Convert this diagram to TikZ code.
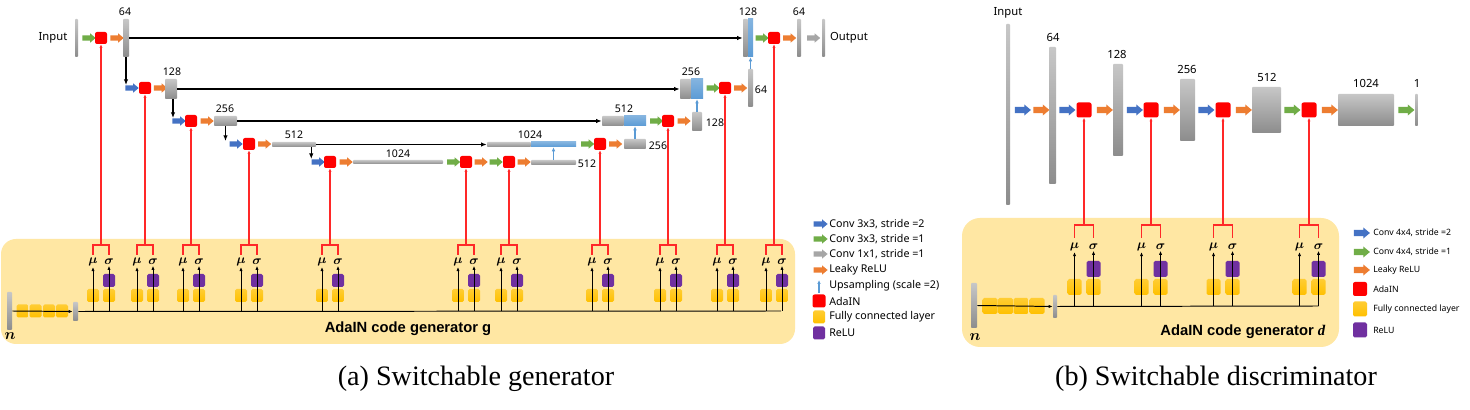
\documentclass[tikz,border=0pt]{standalone}
\usepackage{fontspec}
\setmainfont{Liberation Serif}
\setsansfont{Noto Sans}
\newfontfamily\cgfont{Liberation Sans}
\usetikzlibrary{arrows.meta,fit,shapes.arrows}

\definecolor{cblue}{RGB}{68,114,196}
\definecolor{cgreen}{RGB}{112,173,71}
\definecolor{corange}{RGB}{237,125,49}
\definecolor{cgray}{RGB}{166,166,166}
\definecolor{cyell}{RGB}{255,192,0}
\definecolor{cpurp}{RGB}{112,48,160}
\definecolor{clblue}{RGB}{91,155,213}
\definecolor{codebg}{RGB}{255,231,163}
\definecolor{cred}{RGB}{255,40,40}

\tikzset{
	blk/.style={single arrow, draw=none, inner xsep=0pt, inner ysep=0.6mm, minimum height=3.3mm, single arrow head extend=0.5mm, single arrow tip angle=80},
	bigblk/.style={blk, inner ysep=0.72mm, minimum height=4mm, single arrow head extend=0.6mm},
	ada/.style={rectangle, rounded corners=0.5mm, fill=red, inner sep=0pt, minimum size=3mm},
	bigada/.style={ada, minimum size=3.75mm},
	gbar/.style={rectangle, inner sep=0pt, top color=black!22, bottom color=black!45, rounded corners=0.2mm},
	ubar/.style={rectangle, inner sep=0pt, top color=clblue!75, bottom color=clblue},
	fcbox/.style={rectangle, inner sep=0pt, rounded corners=0.4mm, top color=cyell!80, bottom color=cyell, minimum width=3mm, minimum height=3.25mm},
	rlbox/.style={rectangle, inner sep=0pt, rounded corners=0.4mm, fill=cpurp, minimum width=3mm, minimum height=3.25mm},
	skipln/.style={line width=1pt, -{Latex[length=1.4mm,width=1.1mm]}},
	codearr/.style={line width=0.7pt, -{Latex[length=1mm,width=0.8mm]}},
	redln/.style={cred, line width=0.75pt},
	upar/.style={clblue, line width=0.8pt, -{Latex[length=1mm,width=0.9mm]}},
	lbl/.style={font=\sffamily\fontsize{7.5}{9}\selectfont, inner sep=0.5pt},
	biglbl/.style={font=\sffamily\fontsize{8}{10}\selectfont, inner sep=0.5pt},
	mlbl/.style={font=\fontsize{9}{10}\selectfont\boldmath, inner sep=0.5pt},
	legtxt/.style={font=\sffamily\fontsize{7.6}{9}\selectfont, anchor=west, inner sep=0pt},
	smlegtxt/.style={font=\sffamily\fontsize{6.2}{8}\selectfont, anchor=west, inner sep=0pt},
	cgtxt/.style={font=\cgfont\bfseries\fontsize{10.5}{12}\selectfont, inner sep=0pt},
	captxt/.style={font=\fontsize{20}{24}\selectfont, inner sep=0pt}
}

\begin{document}
\begin{tikzpicture}[x=0.25mm, y=-0.25mm]
			%%%%% START %%%%%
			\useasboundingbox[fill=white] (0,0) rectangle (1470,410);
			
			% code generator panels
			\fill[codebg, rounded corners=3.75mm] (1,239) rectangle (795,344);
			\fill[codebg, rounded corners=4.5mm] (962,218) rectangle (1339,347);
			
			%%%%% (a) generator, encoder %%%%%
			\node[biglbl] (tin) at (53,38) {Input};
			\node[gbar, fit={(75,19) (78,57)}] (inb) {};
			\node[blk, fill=cgreen] (g1) at (87.5,38) {};
			\node[ada] (a1) at (101,38) {};
			\node[blk, fill=corange] (o1) at (115.5,38) {};
			\node[gbar, fit={(123,19) (129,57)}] (e1) {};
			\node[lbl] (le1) at (125,12) {64};
			
			\node[blk, fill=cblue] (b2) at (130.5,88) {};
			\node[ada] (a2) at (145,88) {};
			\node[blk, fill=corange] (o2) at (159,88) {};
			\node[gbar, fit={(165,79) (177,99)}] (e2) {};
			\node[lbl] (le2) at (172,72) {128};
			
			\node[blk, fill=cblue] (b3) at (177.5,121) {};
			\node[ada] (a3) at (191,121) {};
			\node[blk, fill=corange] (o3) at (205.5,121) {};
			\node[gbar, fit={(214,116) (237,126)}] (e3) {};
			\node[lbl] (le3) at (225,109) {256};
			
			\node[blk, fill=cblue] (b4) at (234.5,144) {};
			\node[ada] (a4) at (249,144) {};
			\node[blk, fill=corange] (o4) at (263,144) {};
			\node[gbar, fit={(272,142) (316,147)}] (e4) {};
			\node[lbl] (le4) at (294,135) {512};
			
			\node[blk, fill=cblue] (b5) at (316.5,162) {};
			\node[ada] (a5) at (330,162) {};
			\node[blk, fill=corange] (o5) at (344.5,162) {};
			\node[gbar, fit={(353,160) (443,164)}] (e5) {};
			\node[lbl] (le5) at (398,154) {1024};
			\node[blk, fill=cgreen] (g6) at (452,162) {};
			\node[ada] (a6) at (466,162) {};
			\node[blk, fill=corange] (o6) at (479.5,162) {};
			\node[blk, fill=cgreen] (g7) at (494.5,162) {};
			\node[ada] (a7) at (509,162) {};
			\node[blk, fill=corange] (o7) at (522.5,162) {};
			\node[gbar, fit={(531,160) (576,165)}] (d5) {};
			\node[lbl] (ld5) at (587,164) {512};
			
			%%%%% (a) generator, decoder %%%%%
			\node[gbar, fit={(487,142) (531,147)}] (c4g) {};
			\node[ubar, fit={(531,142) (576,147)}] (c4b) {};
			\node[lbl] (lc4) at (530,135) {1024};
			\node[blk, fill=cgreen] (g8) at (586,144) {};
			\node[ada] (a8) at (600,144) {};
			\node[blk, fill=corange] (o8) at (614,144) {};
			\node[gbar, fit={(624,139) (646,149)}] (d4) {};
			\node[lbl] (ld4) at (658,146) {256};
			
			\node[gbar, fit={(602,116) (624,126)}] (c3g) {};
			\node[ubar, fit={(624,116) (646,126)}] (c3b) {};
			\node[lbl] (lc3) at (624,109) {512};
			\node[blk, fill=cgreen] (g9) at (655,121) {};
			\node[ada] (a9) at (668,121) {};
			\node[blk, fill=corange] (o9) at (682.5,121) {};
			\node[gbar, fit={(692,112) (702,131)}] (d3) {};
			\node[lbl] (ld3) at (715,123) {128};
			
			\node[gbar, fit={(680,79) (691,99)}] (c2g) {};
			\node[ubar, fit={(691,79) (703,99)}] (c2b) {};
			\node[lbl] (lc2) at (691,72) {256};
			\node[blk, fill=cgreen] (g10) at (711.5,88) {};
			\node[ada] (a10) at (725,88) {};
			\node[blk, fill=corange] (o10) at (739,88) {};
			\node[gbar, fit={(748,69) (753,107)}] (d2) {};
			\node[lbl] (ld2) at (761,90) {64};
			
			\node[gbar, fit={(743,19) (748,57)}] (c1g) {};
			\node[ubar, fit={(748,19) (753,57)}] (c1b) {};
			\node[lbl] (lc1) at (748,12) {128};
			\node[blk, fill=cgreen] (g11) at (760.5,38) {};
			\node[ada] (a11) at (774,38) {};
			\node[blk, fill=corange] (o11) at (788,38) {};
			\node[gbar, fit={(797,19) (801,57)}] (d1) {};
			\node[lbl] (ld1) at (799,12) {64};
			\node[blk, fill=cgray] (r1) at (812,38) {};
			\node[gbar, fit={(822,19) (825,57)}] (outb) {};
			\node[biglbl] (tout) at (849,38) {Output};
			
			% skips, down and up arrows
			\draw[skipln] (e1.east) -- (c1g.west);
			\draw[skipln] (e2.east) -- (c2g.west);
			\draw[skipln] (e3.east) -- (c3g.west);
			\draw[skipln] (e4.east) -- (c4g.west);
			\draw[skipln] (e1.south) -- (e1.south |- b2.north);
			\draw[skipln] ([xshift=0.5mm]e2.south) -- ([xshift=0.5mm]e2.south |- b3.north);
			\draw[skipln] (e3.south) -- (e3.south |- b4.north);
			\draw[skipln] ([xshift=-1.25mm]e4.south east) -- ([xshift=-1.25mm]e4.south east |- b5.north);
			\draw[upar] (d5.north) -- (c4b.south);
			\draw[upar] (d4.north) -- (c3b.south);
			\draw[upar] (d3.north) -- (c2b.south);
			\draw[upar] (d2.north) -- (c1b.south);
			
			%%%%% (a) AdaIN code generator %%%%%
			\node[gbar, fit={(7,292) (12,330)}] (nin) {};
			\node[mlbl, font=\fontsize{11}{12}\selectfont\boldmath] (nlab) at (10,336) {$n$};
			\foreach \x [count=\i] in {22.5,35.5,49,62}
				\node[fcbox] (fc\i) at (\x,311) {};
			\node[gbar, fit={(73,302) (78,321)}] (nout) {};
			\draw[codearr] (nin.east) -- (nout.west);
			\coordinate (bend) at (781,311);
			\draw[line width=0.7pt] (nout.east) -- (bend);
			\foreach \x/\n [count=\i] in {101/a1,145/a2,191/a3,249/a4,330/a5,466/a6,509/a7,600/a8,668/a9,725/a10,774/a11}{
				\node[fcbox] (fm\i) at (\x-8,295.5) {};
				\node[fcbox] (fs\i) at (\x+8,295.5) {};
				\node[rlbox] (rl\i) at (\x+8,280.5) {};
				\node[mlbl] (mu\i) at (\x-8,262) {$\mu$};
				\node[mlbl] (sg\i) at (\x+8,262) {$\sigma$};
				\draw[codearr] (\x-8,311) -- (mu\i);
				\draw[codearr] (\x+8,311) -- (sg\i);
				\draw[redln] (\x-8,255) |- (\x+8,245) -- (\x+8,255);
				\draw[redln, -{Latex[length=0.9mm,width=0.8mm]}] (\x,245) -- (\n.south);
			}
			\node[cgtxt] (cga) at (408,329) {AdaIN code generator g};
			
			% legend (a)
			\foreach \c/\y/\t [count=\i] in {cblue/224/{Conv 3x3, stride =2}, cgreen/239/{Conv 3x3, stride =1}, cgray/254/{Conv 1x1, stride =1}, corange/270/{Leaky ReLU}}{
				\node[blk, fill=\c, minimum height=3.5mm] (la\i) at (819,\y) {};
				\node[legtxt] (lt\i) at (829,\y) {\t};
			}
			\coordinate (lu0) at (819,293);
			\coordinate (lu1) at (819,280);
			\draw[upar] (lu0) -- (lu1);
			\node[legtxt] (lt5) at (829,286) {Upsampling (scale =2)};
			\node[ada, minimum size=3.25mm] (lq1) at (819,301) {};
			\node[legtxt] (lt6) at (829,301) {AdaIN};
			\node[fcbox, minimum height=3.25mm] (lq2) at (819,317) {};
			\node[legtxt] (lt7) at (829,317) {Fully connected layer};
			\node[rlbox, minimum height=3.25mm] (lq3) at (819,333) {};
			\node[legtxt] (lt8) at (829,333) {ReLU};
			
			%%%%% (b) discriminator %%%%%
			\node[biglbl] (din) at (1008,13) {Input};
			\node[gbar, fit={(1006,24) (1010,205)}] (inD) {};
			\node[bigblk, fill=cblue] (B1) at (1021,110) {};
			\node[bigblk, fill=corange] (O1) at (1039.5,110) {};
			\node[gbar, fit={(1049,47) (1056,184)}] (E1) {};
			\node[biglbl] (lE1) at (1053,37) {64};
			\node[bigblk, fill=cblue] (B2) at (1065.5,110) {};
			\node[bigada] (A1) at (1084,110) {};
			\node[bigblk, fill=corange] (O2) at (1103,110) {};
			\node[gbar, fit={(1113,64) (1123,156)}] (E2) {};
			\node[biglbl] (lE2) at (1117,54) {128};
			\node[bigblk, fill=cblue] (B3) at (1133,110) {};
			\node[bigada] (A2) at (1151,110) {};
			\node[bigblk, fill=corange] (O3) at (1170,110) {};
			\node[gbar, fit={(1180,79) (1195,141)}] (E3) {};
			\node[biglbl] (lE3) at (1187,69) {256};
			\node[bigblk, fill=cblue] (B4) at (1204.5,110) {};
			\node[bigada] (A3) at (1223,110) {};
			\node[bigblk, fill=corange] (O4) at (1242,110) {};
			\node[gbar, fit={(1252,87) (1281,133)}] (E4) {};
			\node[biglbl] (lE4) at (1267,77) {512};
			\node[bigblk, fill=cgreen] (G1) at (1290.5,110) {};
			\node[bigada] (A4) at (1309,110) {};
			\node[bigblk, fill=corange] (O5) at (1328,110) {};
			\node[gbar, fit={(1338,94) (1394,126)}] (E5) {};
			\node[biglbl] (lE5) at (1366,83) {1024};
			\node[bigblk, fill=cgreen] (G2) at (1404.5,110) {};
			\node[gbar, fit={(1415,94) (1418,126)}] (E6) {};
			\node[biglbl] (lE6) at (1417,83) {1};
			
			%%%%% (b) AdaIN code generator %%%%%
			\node[gbar, fit={(971,283) (977,328)}] (nD) {};
			\node[mlbl, font=\fontsize{11}{12}\selectfont\boldmath] (nDlab) at (975,337) {$n$};
			\foreach \x [count=\i] in {990,1005.5,1021,1037}
				\node[fcbox, minimum width=3.75mm, minimum height=4mm] (FC\i) at (\x,306) {};
			\node[gbar, fit={(1053,295) (1057,318)}] (nDout) {};
			\draw[codearr] (nD.east) -- (nDout.west);
			\coordinate (Bend) at (1318.5,306);
			\draw[line width=0.7pt] (nDout.east) -- (Bend);
			\foreach \x/\n [count=\i] in {1084/A1,1151/A2,1223/A3,1309/A4}{
				\node[fcbox, minimum width=3.5mm, minimum height=4mm] (FM\i) at (\x-9.5,287) {};
				\node[fcbox, minimum width=3.5mm, minimum height=4mm] (FS\i) at (\x+9.5,287) {};
				\node[rlbox, minimum width=3.5mm, minimum height=4mm] (RL\i) at (\x+9.5,269) {};
				\node[mlbl] (MU\i) at (\x-9.5,247) {$\mu$};
				\node[mlbl] (SG\i) at (\x+9.5,247) {$\sigma$};
				\draw[codearr] (\x-9.5,306) -- (MU\i);
				\draw[codearr] (\x+9.5,306) -- (SG\i);
				\draw[redln] (\x-9.5,238) |- (\x+9.5,225) -- (\x+9.5,238);
				\draw[redln, -{Latex[length=0.9mm,width=0.8mm]}] (\x,225) -- (\n.south);
			}
			\node[cgtxt] (cgb) at (1243,332) {AdaIN code generator \textrm{\itshape\bfseries d}};
			
			% legend (b)
			\foreach \c/\y/\t [count=\i] in {cblue/233/{Conv 4x4, stride =2}, cgreen/252/{Conv 4x4, stride =1}, corange/270/{Leaky ReLU}}{
				\node[bigblk, fill=\c] (Lb\i) at (1360,\y) {};
				\node[smlegtxt] (Lt\i) at (1373,\y) {\t};
			}
			\node[ada, minimum size=3.5mm] (Lq1) at (1360,289) {};
			\node[smlegtxt] (Lt4) at (1373,289) {AdaIN};
			\node[fcbox, minimum width=3.5mm, minimum height=3.75mm] (Lq2) at (1360,309) {};
			\node[smlegtxt] (Lt5) at (1373,309) {Fully connected layer};
			\node[rlbox, minimum width=3.5mm, minimum height=3.75mm] (Lq3) at (1360,330) {};
			\node[smlegtxt] (Lt6) at (1373,330) {ReLU};
			
			% captions
			\node[captxt] (capa) at (476,379) {(a) Switchable generator};
			\node[captxt] (capb) at (1216,379) {(b) Switchable discriminator};
			%%%%% END %%%%%
\end{tikzpicture}
\end{document}
